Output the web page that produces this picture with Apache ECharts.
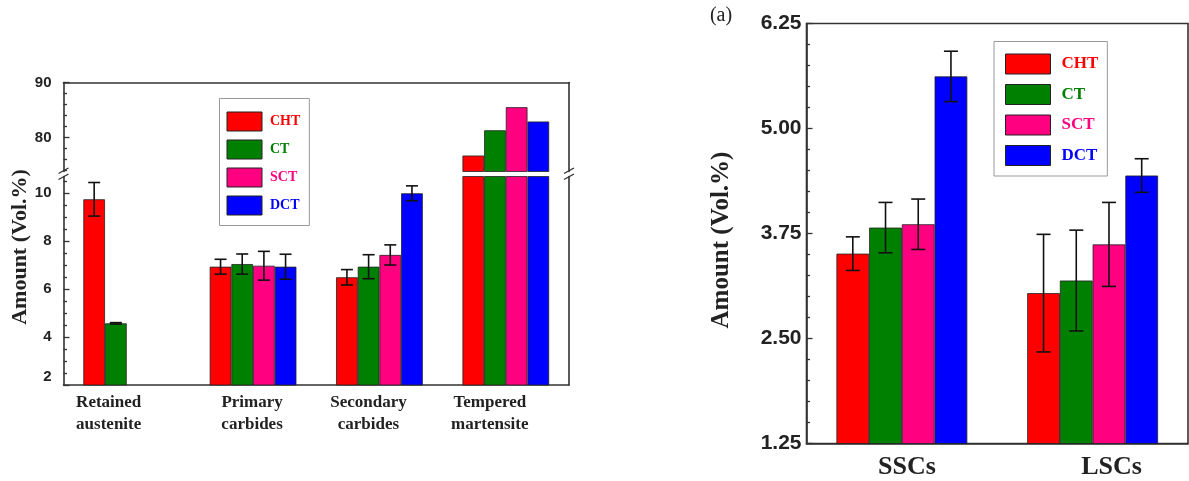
<!DOCTYPE html>
<html><head><meta charset="utf-8">
<script src="https://cdn.jsdelivr.net/npm/echarts@6/dist/echarts.min.js"></script>
<style>html,body{margin:0;padding:0;background:#fff}#c{width:1189px;height:481px}</style>
</head><body><div id="c"></div>
<script>
// ---------- DATA ----------
const seriesNames = ['CHT', 'CT', 'SCT', 'DCT'];
const colors = ['#FF0000', '#008000', '#FF0080', '#0000FF'];

const leftCategories = ['Retained\naustenite', 'Primary\ncarbides', 'Secondary\ncarbides', 'Tempered\nmartensite'];
const leftCHT = [9.74, 6.93, 6.49, 76.7];
const leftCT  = [4.57, 7.04, 6.93, 81.3];
const leftSCT = [null, 6.97, 7.42, 85.5];
const leftDCT = [null, 6.93, 9.99, 82.9];
const leftCHTErr = [0.70, 0.31, 0.32, null];
const leftCTErr  = [0.03, 0.42, 0.50, null];
const leftSCTErr = [null, 0.60, 0.42, null];
const leftDCTErr = [null, 0.52, 0.31, null];

const rightCategories = ['SSCs', 'LSCs'];
const rightCHT = [3.51, 3.04];
const rightCT  = [3.82, 3.19];
const rightSCT = [3.86, 3.62];
const rightDCT = [5.62, 4.44];
const rightCHTErr = [0.20, 0.70];
const rightCTErr  = [0.30, 0.60];
const rightSCTErr = [0.30, 0.50];
const rightDCTErr = [0.30, 0.20];

const leftUpperMajorTicks = [80, 90];
const leftUpperMinorTicks = [74, 76, 78, 82, 84, 86, 88];
const leftLowerMajorTicks = [2, 4, 6, 8, 10];
const leftLowerMinorTicks = [2.5, 3, 3.5, 4.5, 5, 5.5, 6.5, 7, 7.5, 8.5, 9, 9.5, 10.5];
const rightTicks = [1.25, 2.50, 3.75, 5.00, 6.25];

// ---------- LAYOUT ----------
const SERIF = 'Liberation Serif';
const SANS = 'Liberation Sans';
const AX = '#333';
const upperMin = 73.8, upperMax = 90;
const lowerMin = 2, lowerMax = 10.69;
const gU = {left: 63.5, top: 82.5, width: 505.5, height: 89};
const gL = {left: 63.5, top: 176.5, width: 505.5, height: 208.5};
const gR = {left: 806.5, top: 23.5, width: 381.5, height: 420};
const GAP_RATIO = 0.314;

const leftVals = [leftCHT, leftCT, leftSCT, leftDCT];
const leftErrs = [leftCHTErr, leftCTErr, leftSCTErr, leftDCTErr];
const rightVals = [rightCHT, rightCT, rightSCT, rightDCT];
const rightErrs = [rightCHTErr, rightCTErr, rightSCTErr, rightDCTErr];

function errRenderer(k, capW) {
  return function (params, api) {
    const ci = api.value(0), v = api.value(1), e = api.value(2);
    const band = api.size([1, 0])[0];
    const barW = band * (1 - GAP_RATIO) / 4;
    const cx = api.coord([ci, v])[0] + (k - 1.5) * barW;
    const yt = api.coord([ci, v + e])[1];
    const yb = api.coord([ci, v - e])[1];
    const st = {stroke: '#111', lineWidth: 1.6};
    return {type: 'group', children: [
      {type: 'line', shape: {x1: cx, y1: yt, x2: cx, y2: yb}, style: st},
      {type: 'line', shape: {x1: cx - capW / 2, y1: yt, x2: cx + capW / 2, y2: yt}, style: st},
      {type: 'line', shape: {x1: cx - capW / 2, y1: yb, x2: cx + capW / 2, y2: yb}, style: st}
    ]};
  };
}

const barBase = {
  type: 'bar', barGap: '0%', barCategoryGap: (GAP_RATIO * 100) + '%', clip: true,
  itemStyle: {borderColor: '#222', borderWidth: 0.8}
};

const series = [];
seriesNames.forEach((n, k) => {
  series.push(Object.assign({}, barBase, {
    name: n, xAxisIndex: 0, yAxisIndex: 0,
    itemStyle: Object.assign({}, barBase.itemStyle, {color: colors[k]}),
    data: leftVals[k].map(v => (v != null && v > upperMin) ? v : null)
  }));
  series.push(Object.assign({}, barBase, {
    name: n, xAxisIndex: 1, yAxisIndex: 3,
    itemStyle: Object.assign({}, barBase.itemStyle, {color: colors[k]}),
    data: leftVals[k]
  }));
  series.push(Object.assign({}, barBase, {
    name: n, xAxisIndex: 2, yAxisIndex: 6,
    itemStyle: Object.assign({}, barBase.itemStyle, {color: colors[k]}),
    data: rightVals[k]
  }));
});
seriesNames.forEach((n, k) => {
  const dl = [];
  leftVals[k].forEach((v, i) => { if (v != null && leftErrs[k][i] != null) dl.push([i, v, leftErrs[k][i]]); });
  series.push({type: 'custom', name: n + ' err', xAxisIndex: 1, yAxisIndex: 3, z: 5,
    renderItem: errRenderer(k, 12), data: dl});
  const dr = rightVals[k].map((v, i) => [i, v, rightErrs[k][i]]);
  series.push({type: 'custom', name: n + ' err R', xAxisIndex: 2, yAxisIndex: 6, z: 5,
    renderItem: errRenderer(k, 14), data: dr});
});

const leftLabelShift = [36, 2, 22, 32];    // right padding -> shift left
const rightLabelShift = [10, 38];          // left padding -> shift right
const leftRich = {}; leftLabelShift.forEach((p, i) => {
  leftRich['c' + i] = {fontFamily: SERIF, fontWeight: 'bold', fontSize: 17, color: '#222', lineHeight: 22, padding: [0, p, 0, 0]};
});
const rightRich = {}; rightLabelShift.forEach((p, i) => {
  rightRich['c' + i] = {fontFamily: SERIF, fontWeight: 'bold', fontSize: 26, color: '#222', lineHeight: 30, padding: [0, 0, 0, p]};
});

const lineStyle = {color: AX, width: 1.6};
const tickLabel = {fontFamily: SANS, fontWeight: 'bold', fontSize: 15, color: '#222'};

function legendFor(pos) {
  return Object.assign({
    orient: 'vertical', icon: 'rect', selectedMode: false,
    borderColor: '#999', borderWidth: 1, backgroundColor: '#fff',
    itemStyle: {borderColor: '#222', borderWidth: 1},
    data: seriesNames.map((n, i) => ({name: n, textStyle: {color: colors[i]}}))
  }, pos);
}

const option = {
  backgroundColor: '#fff',
  animation: false,
  grid: [
    Object.assign({containLabel: false}, gU),
    Object.assign({containLabel: false}, gL),
    Object.assign({containLabel: false, show: true, borderColor: AX, borderWidth: 1.6}, gR)
  ],
  legend: [
    legendFor({left: 219.5, top: 98.5, itemWidth: 35, itemHeight: 19, itemGap: 8, padding: [13, 9, 10, 7],
      textStyle: {fontFamily: SERIF, fontWeight: 'bold', fontSize: 14, padding: [0, 0, 0, 3]}}),
    legendFor({left: 994, top: 41.5, itemWidth: 45, itemHeight: 20, itemGap: 9.5, padding: [12, 9, 10, 11],
      textStyle: {fontFamily: SERIF, fontWeight: 'bold', fontSize: 17, padding: [0, 0, 0, 6]}})
  ],
  xAxis: [
    {type: 'category', gridIndex: 0, data: leftCategories, position: 'top',
      axisLine: {show: true, lineStyle}, axisTick: {show: false}, axisLabel: {show: false}},
    {type: 'category', gridIndex: 1, data: leftCategories, position: 'bottom',
      axisLine: {show: true, lineStyle}, axisTick: {show: false},
      axisLabel: {margin: 7, interval: 0,
        formatter: (v, i) => v.split('\n').map(s => '{c' + i + '|' + s + '}').join('\n'),
        rich: leftRich}},
    {type: 'category', gridIndex: 2, data: rightCategories,
      axisLine: {show: true, lineStyle}, axisTick: {show: false},
      axisLabel: {margin: 9, interval: 0,
        formatter: (v, i) => '{c' + i + '|' + v + '}', rich: rightRich}}
  ],
  yAxis: [
    {type: 'value', gridIndex: 0, position: 'left', min: upperMin, max: upperMax, splitLine: {show: false},
      axisLine: {show: true, lineStyle},
      axisTick: {show: true, inside: true, length: 6, customValues: leftUpperMajorTicks, lineStyle: {color: AX, width: 1.3}},
      axisLabel: {customValues: leftUpperMajorTicks, margin: 12, ...tickLabel}},
    {type: 'value', gridIndex: 0, position: 'left', min: upperMin, max: upperMax, splitLine: {show: false},
      axisLine: {show: false}, axisLabel: {show: false},
      axisTick: {show: true, inside: true, length: 3.5, customValues: leftUpperMinorTicks, lineStyle: {color: AX, width: 1.3}}},
    {type: 'value', gridIndex: 0, position: 'right', min: upperMin, max: upperMax, splitLine: {show: false},
      axisLine: {show: true, lineStyle}, axisTick: {show: false}, axisLabel: {show: false}},
    {type: 'value', gridIndex: 1, position: 'left', min: lowerMin, max: lowerMax, splitLine: {show: false},
      axisLine: {show: true, lineStyle},
      axisTick: {show: true, inside: true, length: 6, customValues: leftLowerMajorTicks, lineStyle: {color: AX, width: 1.3}},
      axisLabel: {customValues: leftLowerMajorTicks, margin: 12, ...tickLabel,
        formatter: v => v === 2 ? '{s|2}' : String(v),
        rich: {s: {fontFamily: SANS, fontWeight: 'bold', fontSize: 15, color: '#222', padding: [0, 0, 16, 0]}}}},
    {type: 'value', gridIndex: 1, position: 'left', min: lowerMin, max: lowerMax, splitLine: {show: false},
      axisLine: {show: false}, axisLabel: {show: false},
      axisTick: {show: true, inside: true, length: 3.5, customValues: leftLowerMinorTicks, lineStyle: {color: AX, width: 1.3}}},
    {type: 'value', gridIndex: 1, position: 'right', min: lowerMin, max: lowerMax, splitLine: {show: false},
      axisLine: {show: true, lineStyle}, axisTick: {show: false}, axisLabel: {show: false}},
    {type: 'value', gridIndex: 2, position: 'left', min: 1.25, max: 6.25, interval: 1.25, splitLine: {show: false},
      axisLine: {show: true, lineStyle},
      axisTick: {show: true, inside: true, length: 6, customValues: rightTicks, lineStyle: {color: AX, width: 1.3}},
      minorTick: {show: true, splitNumber: 5, length: 3.5, lineStyle: {color: AX, width: 1.3}},
      axisLabel: {customValues: rightTicks, margin: 5, fontFamily: SANS, fontWeight: 'bold', fontSize: 21, color: '#222',
        formatter: v => v.toFixed(2)}}
  ],
  series: series
};

// break marks & texts
const brkY = (gU.top + gU.height + gL.top) / 2;
function breakMark(x) {
  const st = {stroke: AX, lineWidth: 1.4};
  return {type: 'group', children: [
    {type: 'rect', shape: {x: x - 5, y: brkY - 2.5, width: 10, height: 5}, style: {fill: '#fff'}},
    {type: 'line', shape: {x1: x - 5, y1: brkY - 0.5, x2: x + 5, y2: brkY - 6}, style: st},
    {type: 'line', shape: {x1: x - 5, y1: brkY + 5.5, x2: x + 5, y2: brkY + 0}, style: st}
  ]};
}
option.graphic = [
  breakMark(gU.left),
  breakMark(gU.left + gU.width),
  {type: 'text', x: 20, y: 247, rotation: Math.PI / 2,
    style: {text: 'Amount (Vol.%)', fontFamily: SERIF, fontWeight: 'bold', fontSize: 22, fill: '#222', align: 'center', verticalAlign: 'middle'}},
  {type: 'text', x: 722, y: 240, rotation: Math.PI / 2,
    style: {text: 'Amount (Vol.%)', fontFamily: SERIF, fontWeight: 'bold', fontSize: 25, fill: '#222', align: 'center', verticalAlign: 'middle'}},
  {type: 'text', x: 721, y: 16,
    style: {text: '(a)', fontFamily: SERIF, fontSize: 20, fill: '#222', align: 'center', verticalAlign: 'middle'}}
];

const chart = echarts.init(document.getElementById('c'), null, {renderer: 'canvas'});
chart.setOption(option);
</script>
</body></html>
